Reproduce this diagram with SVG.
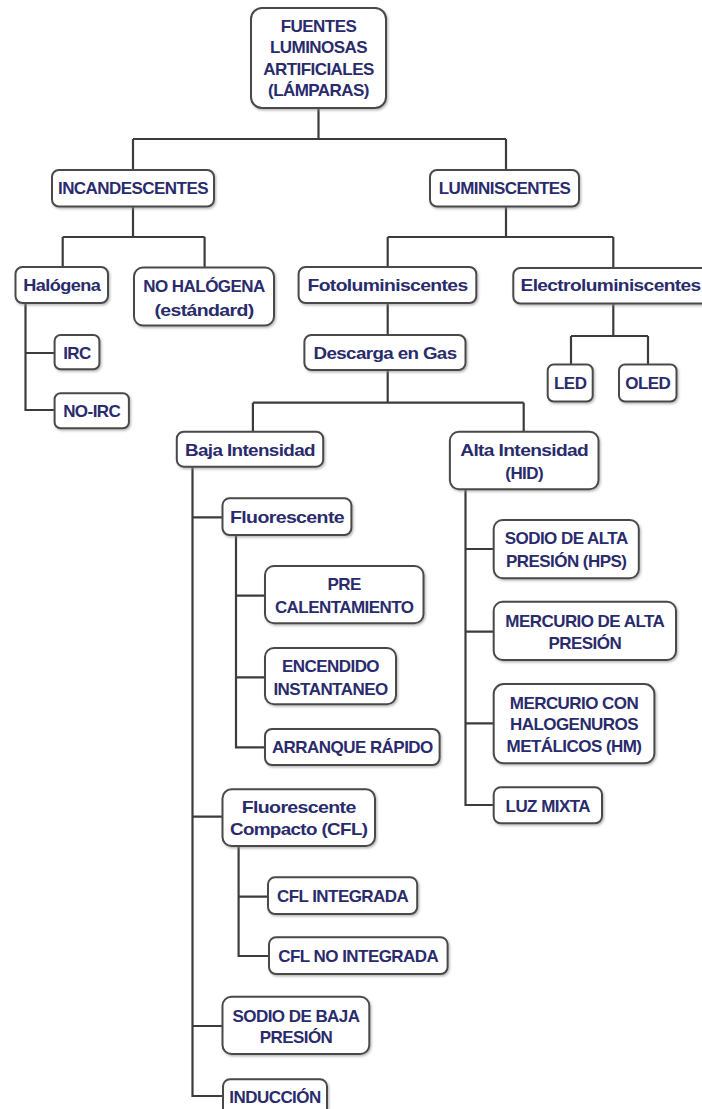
<svg xmlns="http://www.w3.org/2000/svg" width="702" height="1109" viewBox="0 0 702 1109">
<defs>
<filter id="sh" x="-10%" y="-10%" width="120%" height="130%">
<feDropShadow dx="1.2" dy="1.5" stdDeviation="0.8" flood-color="#888" flood-opacity="0.6"/>
</filter>
<style>
.box{fill:#ffffff;stroke:#4a4a4a;stroke-width:2;filter:url(#sh)}
.t{font-family:"Liberation Sans",Arial,sans-serif;font-weight:bold;font-size:17px;letter-spacing:-0.55px;fill:#2a2b6c;text-anchor:middle}
.c{fill:none;stroke:#3c3c3c;stroke-width:2.2}
</style>
</defs>
<rect width="702" height="1109" fill="#ffffff"/>
<g id="connectors">
<path class="c" d="M318.5 108 V139 M133 139 H506 M133 139 V170 M506 139 V170"/>
<path class="c" d="M133 207 V237 M62.7 237 H204.6 M62.7 237 V267 M204.6 237 V268"/>
<path class="c" d="M506 207 V237 M387.7 237 H613.3 M387.7 237 V267 M613.3 237 V268"/>
<path class="c" d="M25.5 303 V410 H55 M25.5 353 H55"/>
<path class="c" d="M387.7 303 V335"/>
<path class="c" d="M387.7 370 V402.7 M252.9 402.7 H523.7 M252.9 402.7 V432 M523.7 402.7 V432"/>
<path class="c" d="M613.3 303 V336 M571 336 H648 M571 336 V365 M648 336 V365"/>
<path class="c" d="M192.5 467 V1096 H223 M192.5 517.3 H223 M192.5 816.7 H223 M192.5 1026 H223"/>
<path class="c" d="M236 535 V747.3 H265 M236 595.7 H265 M236 677.3 H265"/>
<path class="c" d="M465.5 489 V805 H494 M465.5 549 H494 M465.5 631.7 H494 M465.5 723.3 H494"/>
<path class="c" d="M238.6 846 V956 H269 M238.6 896.7 H268"/>
</g>
<g id="n-root"><rect class="box" x="251" y="8" width="135" height="100" rx="11"/>
<text class="t" x="318.5" y="31.5">FUENTES</text><text class="t" x="318.5" y="53">LUMINOSAS</text><text class="t" x="318.5" y="74.5">ARTIFICIALES</text><text class="t" x="318.5" y="96">(LÁMPARAS)</text></g>
<g id="n-incandescentes"><rect class="box" x="52" y="170" width="162" height="36.5" rx="7"/><text class="t" x="133" y="194.3">INCANDESCENTES</text></g>
<g id="n-luminiscentes"><rect class="box" x="430" y="170" width="149" height="36.5" rx="7"/><text class="t" x="504.5" y="194.3">LUMINISCENTES</text></g>
<g id="n-halogena"><rect class="box" x="15.5" y="267" width="92.5" height="36" rx="7"/><text class="t" x="61.7" y="291" textLength="77" lengthAdjust="spacingAndGlyphs">Halógena</text></g>
<g id="n-nohalogena"><rect class="box" x="134" y="267.5" width="140" height="58" rx="9"/><text class="t" x="204" y="291.7">NO HALÓGENA</text><text class="t" x="204" y="315.5" textLength="99" lengthAdjust="spacingAndGlyphs">(estándard)</text></g>
<g id="n-fotolum"><rect class="box" x="298.6" y="267" width="177.7" height="36" rx="7"/><text class="t" x="387.5" y="291" textLength="160" lengthAdjust="spacingAndGlyphs">Fotoluminiscentes</text></g>
<g id="n-electrolum"><rect class="box" x="513.3" y="268" width="200" height="35.5" rx="7"/><text class="t" x="610.5" y="291" textLength="180" lengthAdjust="spacingAndGlyphs">Electroluminiscentes</text></g>
<g id="n-irc"><rect class="box" x="54.6" y="335" width="44.8" height="34.3" rx="6"/><text class="t" x="77" y="358.5">IRC</text></g>
<g id="n-noirc"><rect class="box" x="54.6" y="393.3" width="74.3" height="35" rx="6"/><text class="t" x="91.7" y="416.5">NO-IRC</text></g>
<g id="n-descarga"><rect class="box" x="304.4" y="335" width="161.1" height="35" rx="7"/><text class="t" x="385" y="359" textLength="143" lengthAdjust="spacingAndGlyphs">Descarga en Gas</text></g>
<g id="n-led"><rect class="box" x="547.7" y="364.5" width="45" height="37" rx="6"/><text class="t" x="570.2" y="389">LED</text></g>
<g id="n-oled"><rect class="box" x="619" y="364.5" width="57.5" height="37" rx="6"/><text class="t" x="647.8" y="389">OLED</text></g>
<g id="n-baja"><rect class="box" x="176.8" y="431.7" width="146.4" height="35" rx="7"/><text class="t" x="250" y="456" textLength="130" lengthAdjust="spacingAndGlyphs">Baja Intensidad</text></g>
<g id="n-alta"><rect class="box" x="449.9" y="431.7" width="148.6" height="57.6" rx="9"/><text class="t" x="524.2" y="456" textLength="128" lengthAdjust="spacingAndGlyphs">Alta Intensidad</text><text class="t" x="524.2" y="478.7">(HID)</text></g>
<g id="n-fluorescente"><rect class="box" x="222.5" y="498.3" width="128.9" height="36.7" rx="7"/><text class="t" x="287" y="523" textLength="114" lengthAdjust="spacingAndGlyphs">Fluorescente</text></g>
<g id="n-precal"><rect class="box" x="265" y="566" width="158.5" height="57.3" rx="9"/><text class="t" x="344.2" y="590">PRE</text><text class="t" x="344.2" y="612.5">CALENTAMIENTO</text></g>
<g id="n-encendido"><rect class="box" x="265" y="648" width="131" height="56.3" rx="9"/><text class="t" x="330.5" y="672">ENCENDIDO</text><text class="t" x="330.5" y="694.5">INSTANTANEO</text></g>
<g id="n-arranque"><rect class="box" x="265" y="729" width="174.6" height="36" rx="7"/><text class="t" x="352.3" y="752.5">ARRANQUE RÁPIDO</text></g>
<g id="n-sodioalta"><rect class="box" x="493.7" y="520" width="145.1" height="58.3" rx="9"/><text class="t" x="566.2" y="544">SODIO DE ALTA</text><text class="t" x="566.2" y="567">PRESIÓN (HPS)</text></g>
<g id="n-mercurioalta"><rect class="box" x="493.7" y="601.7" width="182.3" height="58.3" rx="9"/><text class="t" x="584.8" y="627">MERCURIO DE ALTA</text><text class="t" x="584.8" y="648.5">PRESIÓN</text></g>
<g id="n-halogenuros"><rect class="box" x="493.7" y="684" width="160.7" height="79.3" rx="10"/><text class="t" x="574" y="708.5">MERCURIO CON</text><text class="t" x="574" y="730">HALOGENUROS</text><text class="t" x="574" y="752">METÁLICOS (HM)</text></g>
<g id="n-luzmixta"><rect class="box" x="493.7" y="787.3" width="108.3" height="36" rx="7"/><text class="t" x="547.8" y="811.5">LUZ MIXTA</text></g>
<g id="n-cfl"><rect class="box" x="222.5" y="789.3" width="152.5" height="56.7" rx="9"/><text class="t" x="298.7" y="812.5" textLength="114" lengthAdjust="spacingAndGlyphs">Fluorescente</text><text class="t" x="298.7" y="835" textLength="137.5" lengthAdjust="spacingAndGlyphs">Compacto (CFL)</text></g>
<g id="n-cflint"><rect class="box" x="268" y="877.3" width="149.2" height="36.7" rx="7"/><text class="t" x="342.6" y="901.5">CFL INTEGRADA</text></g>
<g id="n-cflnoint"><rect class="box" x="269" y="937.3" width="178.6" height="36.7" rx="7"/><text class="t" x="358.3" y="962">CFL NO INTEGRADA</text></g>
<g id="n-sodiobaja"><rect class="box" x="222.5" y="996.7" width="146.8" height="57.3" rx="9"/><text class="t" x="296" y="1021.5">SODIO DE BAJA</text><text class="t" x="296" y="1042.5">PRESIÓN</text></g>
<g id="n-induccion"><rect class="box" x="223" y="1079.3" width="104" height="40" rx="7"/><text class="t" x="275" y="1103.3">INDUCCIÓN</text></g>
</svg>
